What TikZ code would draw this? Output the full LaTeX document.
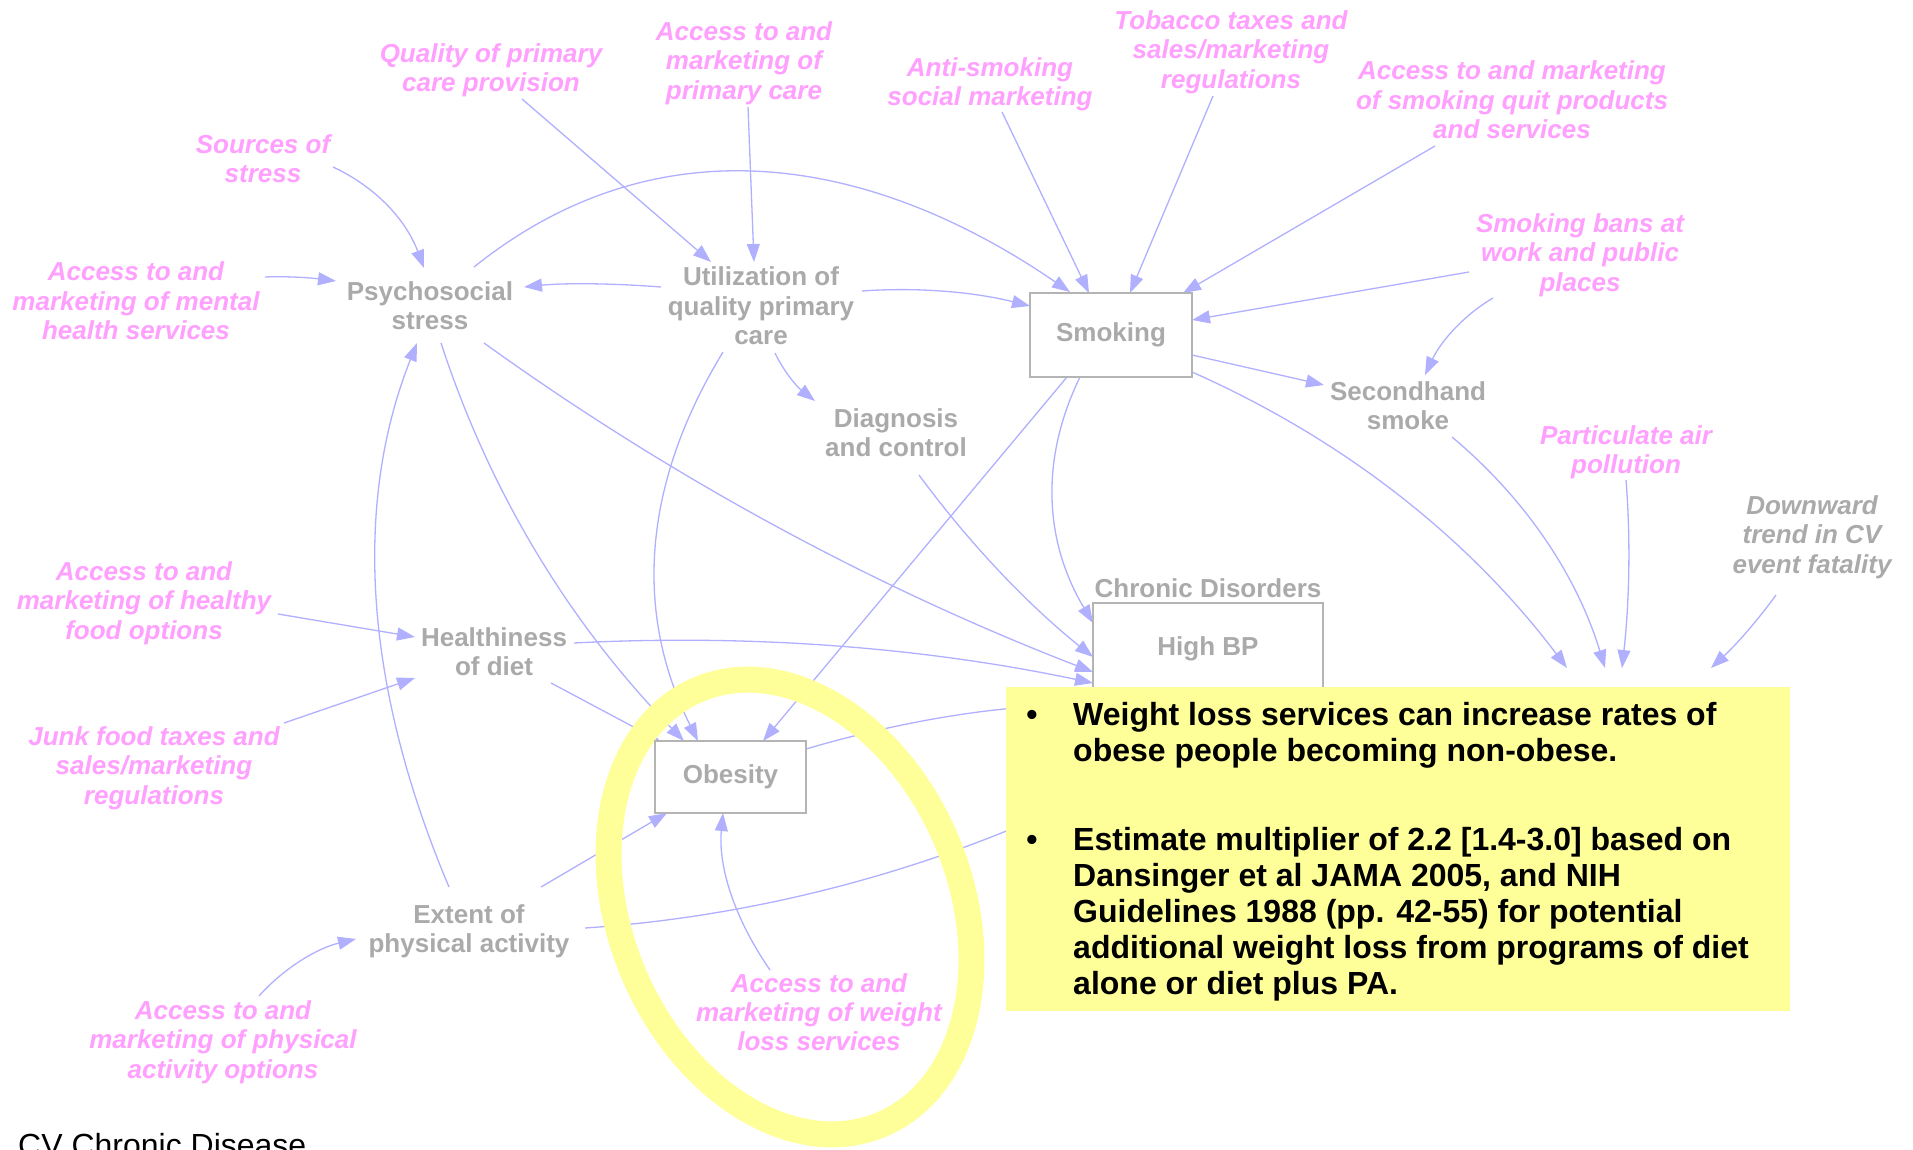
\documentclass[tikz,border=0pt]{standalone}
\usepackage{fontspec}
\setmainfont{Liberation Sans}
\usetikzlibrary{arrows.meta}
\definecolor{pinkc}{RGB}{255,160,255}
\definecolor{greyc}{RGB}{170,170,170}
\definecolor{boxc}{RGB}{180,180,180}
\definecolor{linec}{RGB}{176,176,255}
\definecolor{notec}{RGB}{255,255,153}
\pgfdeclarelayer{paper}
\pgfdeclarelayer{links}
\pgfdeclarelayer{ring}
\pgfdeclarelayer{top}
\pgfsetlayers{paper,links,ring,main,top}

\begin{document}
\begin{tikzpicture}[x=1pt,y=-1pt,
  lbl/.style={inner sep=0pt, outer sep=0pt, align=center},
  policy/.style={lbl, text=pinkc, font=\fontsize{26}{29.3}\selectfont\bfseries\itshape},
  varlbl/.style={lbl, text=greyc, font=\fontsize{26}{29.3}\selectfont\bfseries},
  varital/.style={lbl, text=greyc, font=\fontsize{26}{29.3}\selectfont\bfseries\itshape},
  stock/.style={draw=boxc, line width=2pt, inner sep=0pt, text=greyc,
    font=\fontsize{26}{29.3}\selectfont\bfseries},
  link/.style={draw=linec, line width=1.3pt, -{Triangle[length=18pt,width=13pt]}},
  hl/.style={draw=notec, line width=26pt},
  notefont/.style={inner sep=0pt, font=\fontsize{32}{36}\selectfont\bfseries}
]
\begin{pgfonlayer}{paper}
  \fill[white] (0,0) rectangle (1913,1150);
\end{pgfonlayer}
\useasboundingbox (0,0) rectangle (1913,1150);

% ---------- variables and policy levers ----------
\node[policy] (quality) at (491,70) {Quality of primary\\care provision};
\node[policy] (accpc) at (744,63) {Access to and\\marketing of\\primary care};
\node[policy] (anti) at (990,84) {Anti-smoking\\social marketing};
\node[policy] (tobacco) at (1231,52) {Tobacco taxes and\\sales/marketing\\regulations};
\node[policy] (quit) at (1512,100) {Access to and marketing\\of smoking quit products\\and services};
\node[policy] (sources) at (263,159) {Sources of\\stress};
\node[policy] (accmh) at (136,301) {Access to and\\marketing of mental\\health services};
\node[varlbl] (psy) at (430,306) {Psychosocial\\stress};
\node[varlbl] (util) at (761,306) {Utilization of\\quality primary\\care};
\node[stock, minimum width=162pt, minimum height=84pt] (smoking) at (1111,335) {\raisebox{-2.5pt}{Smoking}};
\node[policy] (bans) at (1580,255) {Smoking bans at\\work and public\\places};
\node[varlbl] (second) at (1408,406) {Secondhand\\smoke};
\node[varlbl] (diag) at (896,433) {Diagnosis\\and control};
\node[policy] (partic) at (1626,452) {Particulate air\\pollution};
\node[varital] (downward) at (1812,537) {Downward\\trend in CV\\event fatality};
\node[varlbl] (chronlab) at (1208,588) {Chronic Disorders};
\node[stock, minimum width=230pt, minimum height=137pt] (highbp) at (1208,671.5) {};
\node[varlbl] (hbptxt) at (1208,649) {High BP};
\node[policy] (accfood) at (144,603) {Access to and\\marketing of healthy\\food options};
\node[varlbl] (health) at (494,652) {Healthiness\\of diet};
\node[policy] (junk) at (154,768) {Junk food taxes and\\sales/marketing\\regulations};
\node[stock, minimum width=151pt, minimum height=72pt] (obesity) at (730.5,777) {\raisebox{-2.5pt}{Obesity}};
\node[varlbl] (extent) at (469,931) {Extent of\\physical activity};
\node[policy] (accpa) at (223,1042) {Access to and\\marketing of physical\\activity options};
\node[policy] (accwl) at (819,1012) {Access to and\\marketing of weight\\loss services};
\node[anchor=base west, inner sep=0pt, font=\fontsize{32}{36}\selectfont] (title) at (18,1156) {CV Chronic Disease};

% ends of links that run under the note
\coordinate (cv1) at (1567,668);
\coordinate (cv2) at (1605,668);
\coordinate (cv3) at (1622,668);
\coordinate (cv4) at (1711,668);
\coordinate (hid1) at (1040,706);
\coordinate (hid2) at (1040,817);

% ---------- causal links ----------
\begin{pgfonlayer}{links}
\draw[link] ([shift={(31,29)}]quality.center) -- ([shift={(-50,-44)}]util.center);
\draw[link] ([shift={(4,44)}]accpc.center) -- ([shift={(-7,-44)}]util.center);
\draw[link] ([shift={(70,8)}]sources.center) .. controls (376,187) and (406,220) .. ([shift={(-6,-38)}]psy.center);
\draw[link] ([shift={(129,-24)}]accmh.center) .. controls (288,276) and (312,278) .. ([shift={(-94,-25)}]psy.center);
\draw[link] ([shift={(-100,-19)}]util.center) .. controls (609,283) and (563,283) .. ([shift={(94,-19)}]psy.center);
\draw[link] ([shift={(44,-39)}]psy.center) .. controls (660,118) and (873,157) .. ([shift={(-41,-43)}]smoking.center);
\draw[link] ([shift={(101,-15)}]util.center) .. controls (918,287) and (974,292) .. ([shift={(-81,-29)}]smoking.center);
\draw[link] ([shift={(12,28)}]anti.center) -- ([shift={(-22,-42)}]smoking.center);
\draw[link] ([shift={(-18,44)}]tobacco.center) -- ([shift={(19,-42)}]smoking.center);
\draw[link] ([shift={(-77,46)}]quit.center) -- ([shift={(72,-42)}]smoking.center);
\draw[link] ([shift={(-111,17)}]bans.center) -- ([shift={(81,-15)}]smoking.center);
\draw[link] ([shift={(-87,43)}]bans.center) .. controls (1464,315) and (1441,341) .. ([shift={(17,-31)}]second.center);
\draw[link] ([shift={(81,20)}]smoking.center) -- ([shift={(-84,-21)}]second.center);
\draw[link] ([shift={(81,37)}]smoking.center) .. controls (1343,439) and (1468,537) .. (cv1);
\draw[link] ([shift={(44,31)}]second.center) .. controls (1526,499) and (1577,576) .. (cv2);
\draw[link] ([shift={(0,28)}]partic.center) .. controls (1631,543) and (1629,605) .. (cv3);
\draw[link] ([shift={(-36,58)}]downward.center) .. controls (1760,617) and (1739,642) .. (cv4);
\draw[link] ([shift={(14,47)}]util.center) .. controls (783,370) and (796,386) .. ([shift={(-81,-32)}]diag.center);
\draw[link] ([shift={(23,42)}]diag.center) .. controls (969,543) and (1027,604) .. ([shift={(-115,-14.5)}]highbp.center);
\draw[link] ([shift={(-31,42)}]smoking.center) .. controls (1040,459) and (1044,541) .. ([shift={(-115,-48.5)}]highbp.center);
\draw[link] ([shift={(54,37)}]psy.center) .. controls (673,479) and (876,588) .. ([shift={(-115,0.5)}]highbp.center);
\draw[link] ([shift={(80,-9)}]health.center) .. controls (749,634) and (922,647) .. ([shift={(-115,11.5)}]highbp.center);
\draw[link] ([shift={(11,37)}]psy.center) .. controls (490,493) and (570,624) .. ([shift={(-46.5,-36)}]obesity.center);
\draw[link] ([shift={(-38,46)}]util.center) .. controls (642,485) and (634,613) .. ([shift={(-32.5,-36)}]obesity.center);
\draw[link] ([shift={(-44,42)}]smoking.center) -- ([shift={(32.5,-36)}]obesity.center);
\draw[link] ([shift={(57,31)}]health.center) -- ([shift={(-70.5,-36)}]obesity.center);
\draw[link] ([shift={(72,-44)}]extent.center) -- ([shift={(-63.5,36)}]obesity.center);
\draw[link] ([shift={(-20,-44)}]extent.center) .. controls (364,686) and (353,504) .. ([shift={(-13,37)}]psy.center);
\draw[link] ([shift={(134,11)}]accfood.center) -- ([shift={(-79,-15)}]health.center);
\draw[link] ([shift={(130,-45)}]junk.center) -- ([shift={(-79,26)}]health.center);
\draw[link] ([shift={(36,-46)}]accpa.center) .. controls (285,967) and (318,948) .. ([shift={(-113,8)}]extent.center);
\draw[link] ([shift={(-49,-42)}]accwl.center) .. controls (734,918) and (718,866) .. ([shift={(-7.5,36)}]obesity.center);
\draw[link] ([shift={(75.5,-28)}]obesity.center) .. controls (884,726) and (962,712) .. (hid1);
\draw[link] ([shift={(116,-3)}]extent.center) .. controls (736,918) and (888,881) .. (hid2);
\end{pgfonlayer}

% ---------- highlight ring round the weight-loss lever ----------
\begin{pgfonlayer}{ring}
\draw[hl, rotate around={22.8:(790,907)}] (790,907) ellipse [x radius=170, y radius=236];
\end{pgfonlayer}

% ---------- note ----------
\begin{pgfonlayer}{top}
\node[fill=notec, inner sep=0pt, minimum width=784pt, minimum height=324pt, anchor=north west] (note) at (1006,687) {};
\node[notefont, anchor=base] (bul1) at (1032,725) {\textbullet};
\node[notefont, anchor=north west, align=left] (txt1) at (1073,702) {Weight loss services can increase rates of\\obese people becoming non-obese.};
\node[notefont, anchor=base] (bul2) at (1032,850) {\textbullet};
\node[notefont, anchor=north west, align=left] (txt2) at (1073,826.7) {Estimate multiplier of 2.2 [1.4-3.0] based on\\Dansinger et al JAMA 2005, and NIH\\Guidelines 1988 (pp. 42-55) for potential\\additional weight loss from programs of diet\\alone or diet plus PA.};
\end{pgfonlayer}
\end{tikzpicture}
\end{document}
